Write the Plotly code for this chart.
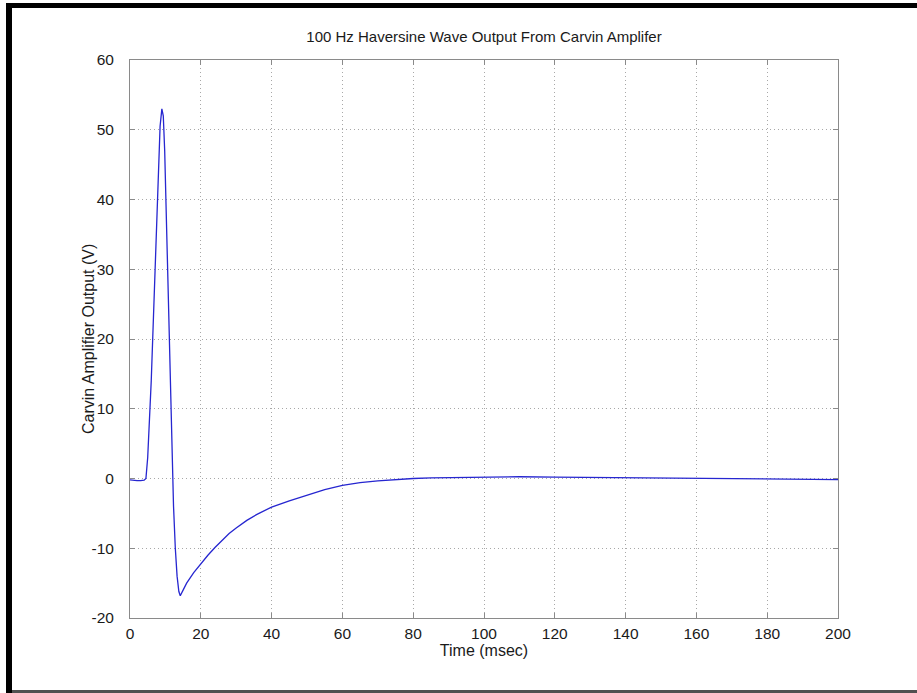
import plotly.graph_objects as go

# Time (msec) and output (V)
time_ms = [0, 1, 2, 3, 4, 4.5, 5, 6, 7, 7.5, 8, 8.5, 9, 9.4, 9.8, 10.3, 10.8, 11.3, 11.8,
           12.3, 12.8, 13.3, 13.8, 14.2, 15, 16, 18, 20, 22, 24, 26, 28, 30, 33, 36, 40,
           45, 50, 55, 60, 65, 70, 75, 80, 85, 90, 100, 110, 120, 130, 140, 150, 160,
           170, 180, 190, 200]
volts = [-0.2, -0.3, -0.3, -0.3, -0.25, 0.0, 3, 14, 28, 36, 44, 50.5, 53, 52, 47, 37, 25,
         14, 4, -4, -10, -14, -16.2, -16.8, -16.0, -15.0, -13.5, -12.2, -11.0, -9.9, -8.9,
         -7.9, -7.1, -6.0, -5.1, -4.1, -3.2, -2.4, -1.6, -1.0, -0.6, -0.35, -0.15, 0.0,
         0.1, 0.15, 0.2, 0.25, 0.2, 0.15, 0.1, 0.05, 0.0, -0.05, -0.15, -0.2, -0.15]

x_ticks = [0, 20, 40, 60, 80, 100, 120, 140, 160, 180, 200]
y_ticks = [-20, -10, 0, 10, 20, 30, 40, 50, 60]
y_tick_labels = ["-20", "-10", "0", "10", "20", "30", "40", "50", "60"]

W, H = 917, 693
L, R, T, B = 130, 79, 60, 75
pw, ph = W - L - R, H - T - B

def px(x):
    return (x - L) / pw

def py(y):
    return (H - B - y) / ph

FONT = "Liberation Sans, Arial"
TXT = "#1a1a1a"

fig = go.Figure()
fig.add_trace(go.Scatter(x=time_ms, y=volts, mode="lines",
                         line=dict(color="#2626d0", width=1.3), showlegend=False))

axis_common = dict(showgrid=True, gridcolor="#a8a8a8", griddash="1px,3px", gridwidth=1,
                   zeroline=False, showline=True, linecolor="#8a8a8a", linewidth=1,
                   mirror="allticks", ticks="inside", ticklen=5, tickcolor="#8a8a8a",
                   tickfont=dict(family=FONT, size=15.5, color=TXT))

fig.update_xaxes(range=[0, 200], tickvals=x_ticks, ticklabelstandoff=1, **axis_common,
                 title=dict(text="Time (msec)", font=dict(family=FONT, size=16, color=TXT),
                            standoff=4))
fig.update_yaxes(range=[-20, 60], tickvals=y_ticks, ticktext=y_tick_labels,
                 ticklabelstandoff=12, **axis_common)

shapes = [
    dict(type="rect", xref="paper", yref="paper", x0=px(6), x1=px(12), y0=py(693), y1=py(3),
         fillcolor="black", line=dict(width=0), layer="above"),
    dict(type="rect", xref="paper", yref="paper", x0=px(6), x1=px(917), y0=py(8), y1=py(3),
         fillcolor="black", line=dict(width=0), layer="above"),
    dict(type="rect", xref="paper", yref="paper", x0=px(12), x1=px(917), y0=py(693), y1=py(690),
         fillcolor="#505050", line=dict(width=0), layer="above"),
]

fig.update_layout(
    width=W, height=H, margin=dict(l=L, r=R, t=T, b=B),
    paper_bgcolor="white", plot_bgcolor="white",
    title=dict(text="100 Hz Haversine Wave Output From Carvin Amplifer",
               font=dict(family=FONT, size=15, color=TXT),
               x=0.5, xref="paper", xanchor="center", y=1 - 37 / H, yref="container",
               yanchor="middle"),
    shapes=shapes,
    annotations=[dict(text="Carvin Amplifier Output (V)", textangle=-90,
                      xref="paper", yref="paper", x=px(88), y=0.5,
                      xanchor="center", yanchor="middle", showarrow=False,
                      font=dict(family=FONT, size=16, color=TXT))],
)

fig.write_html("out.html")
